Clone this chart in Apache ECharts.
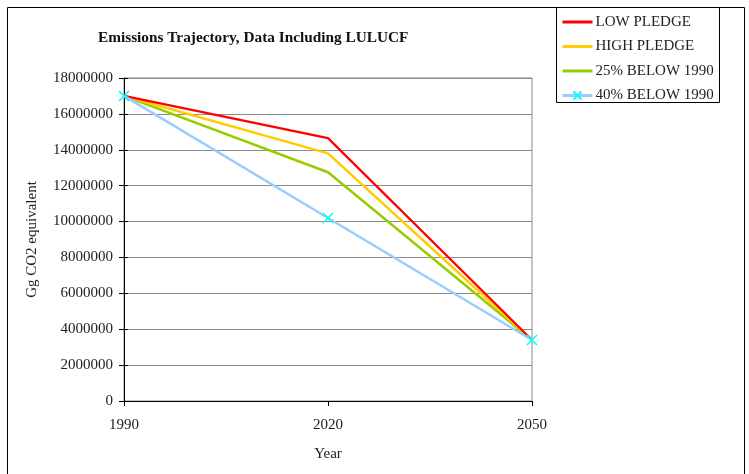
<!DOCTYPE html>
<html>
<head>
<meta charset="utf-8">
<script src="https://cdn.jsdelivr.net/npm/echarts@6/dist/echarts.min.js"></script>
<style>html,body{margin:0;padding:0;background:#fff;}#c{width:749px;height:474px;}</style>
</head>
<body>
<div id="c"></div>
<script>
const years = ['1990', '2020', '2050'];
const lowPledge = [17000000, 14650000, 3400000];
const highPledge = [17000000, 13800000, 3400000];
const below25 = [17000000, 12750000, 3400000];
const below40 = [17000000, 10200000, 3400000];
const seriesNames = ['LOW PLEDGE', 'HIGH PLEDGE', '25% BELOW 1990', '40% BELOW 1990'];

const font = 'Liberation Serif';
const txt = '#222';
const chart = echarts.init(document.getElementById('c'), null, {renderer: 'canvas'});
const cross = 'path://M0,0L10,10M10,0L0,10';
chart.setOption({
  animation: false,
  backgroundColor: '#fff',
  textStyle: {fontFamily: font},
  title: {
    text: 'Emissions Trajectory, Data Including LULUCF',
    left: 93, top: 26,
    textStyle: {fontFamily: font, fontSize: 15.3, fontWeight: 'bold', color: '#111'}
  },
  graphic: [
    {type: 'rect', shape: {x: 7.5, y: 7.5, width: 737, height: 480}, style: {fill: 'none', stroke: '#000', lineWidth: 1}, z: 0},
    {type: 'rect', shape: {x: 556.5, y: 7.5, width: 163, height: 95}, style: {fill: '#fff', stroke: '#000', lineWidth: 1}, z: 1}
  ],
  legend: {
    orient: 'vertical',
    left: 561, top: 14.5,
    itemWidth: 30, itemHeight: 10, itemGap: 9.5,
    padding: 0,
    lineStyle: {width: 3},
    data: [
      {name: seriesNames[0], itemStyle: {opacity: 0}},
      {name: seriesNames[1], itemStyle: {opacity: 0}},
      {name: seriesNames[2], itemStyle: {opacity: 0}},
      {name: seriesNames[3]}
    ],
    textStyle: {fontFamily: font, fontSize: 15, color: txt, padding: [0, 0, 0, -2]},
    z: 5
  },
  grid: {left: 124, right: 217, top: 78, bottom: 73, show: true, borderColor: '#888', borderWidth: 1},
  xAxis: {
    type: 'category', data: years, boundaryGap: false,
    name: 'Year', nameLocation: 'middle', nameGap: 46,
    nameTextStyle: {fontFamily: font, fontSize: 15, color: txt},
    axisLine: {lineStyle: {color: '#000', width: 1}},
    axisTick: {show: true, length: 5, lineStyle: {color: '#000'}},
    axisLabel: {fontFamily: font, fontSize: 15, color: txt, margin: 17},
    splitLine: {show: false}
  },
  yAxis: [{
    type: 'value', min: 0, max: 18000000, interval: 2000000,
    name: 'Gg CO2 equivalent', nameLocation: 'middle', nameGap: 84, nameRotate: 90,
    nameTextStyle: {fontFamily: font, fontSize: 15, color: txt},
    axisLine: {show: true, lineStyle: {color: '#000', width: 1}},
    axisTick: {show: true, length: 5, lineStyle: {color: '#000'}},
    axisLabel: {fontFamily: font, fontSize: 15, color: txt, margin: 11, formatter: v => String(v)},
    splitLine: {show: true, lineStyle: {color: '#8c8c8c', width: 1}}
  }, {
    type: 'value', min: 0, max: 18000000, interval: 2000000, position: 'left',
    axisLine: {show: false},
    axisTick: {show: true, inside: true, length: 4, lineStyle: {color: '#000'}},
    axisLabel: {show: false},
    splitLine: {show: false}
  }],
  series: [
    {name: seriesNames[0], type: 'line', data: lowPledge, showSymbol: false, symbol: 'none', color: '#FF0000', lineStyle: {width: 2.2, color: '#FF0000'}, z: 4},
    {name: seriesNames[1], type: 'line', data: highPledge, showSymbol: false, symbol: 'none', color: '#FFCC00', lineStyle: {width: 2.5, color: '#FFCC00'}, z: 3},
    {name: seriesNames[2], type: 'line', data: below25, showSymbol: false, symbol: 'none', color: '#99CC00', lineStyle: {width: 2.5, color: '#99CC00'}, z: 2},
    {name: seriesNames[3], type: 'line', data: below40, symbol: cross, symbolSize: 10, showSymbol: true, color: '#99CCFF',
      lineStyle: {width: 2.5, color: '#99CCFF'},
      itemStyle: {color: 'rgba(0,0,0,0)', borderColor: '#00FFFF', borderWidth: 1.5}, z: 5}
  ]
});
</script>
</body>
</html>
